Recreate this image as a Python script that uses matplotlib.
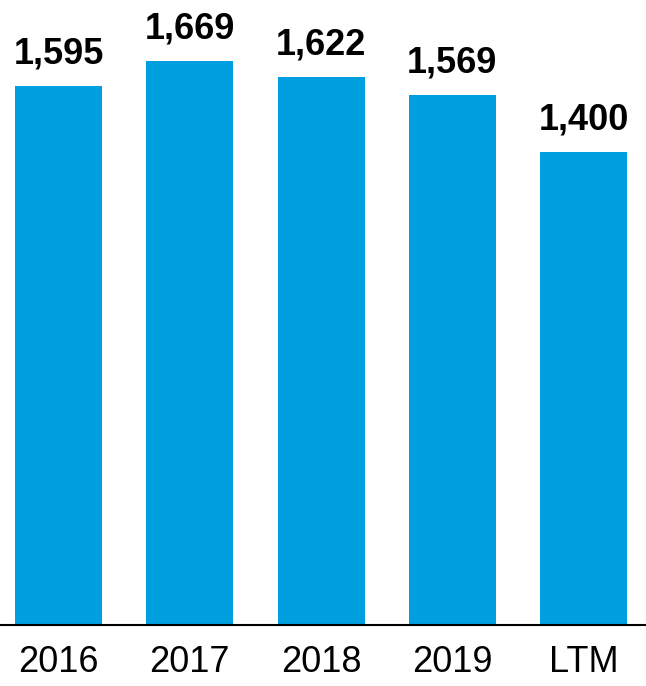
import matplotlib.pyplot as plt

plt.rcParams['font.family'] = ['Liberation Sans', 'DejaVu Sans']

# yearly values
categories = ['2016', '2017', '2018', '2019', 'LTM']
values = [1595, 1669, 1622, 1569, 1400]

fig = plt.figure(figsize=(6.46, 6.86), dpi=100)
ax = fig.add_axes([0, 61 / 686, 1, 625 / 686])

x = range(len(categories))
bars = ax.bar(x, values, width=0.663, color='#009FDF')

for xi, v in zip(x, values):
    ax.annotate(f'{v:,}', xy=(xi, v), xytext=(0, 16), textcoords='offset points',
                ha='center', va='baseline', fontsize=26, fontweight='bold')

ax.set_xlim(-0.446, 4.476)
ax.set_ylim(0, 1849)
ax.set_xticks(list(x))
ax.set_xticklabels(categories, fontsize=26)
ax.tick_params(axis='x', length=0, pad=14.5)
ax.set_yticks([])
for side in ['top', 'left', 'right']:
    ax.spines[side].set_visible(False)
ax.spines['bottom'].set_linewidth(1.5)

fig.savefig('out.png', dpi=100)
